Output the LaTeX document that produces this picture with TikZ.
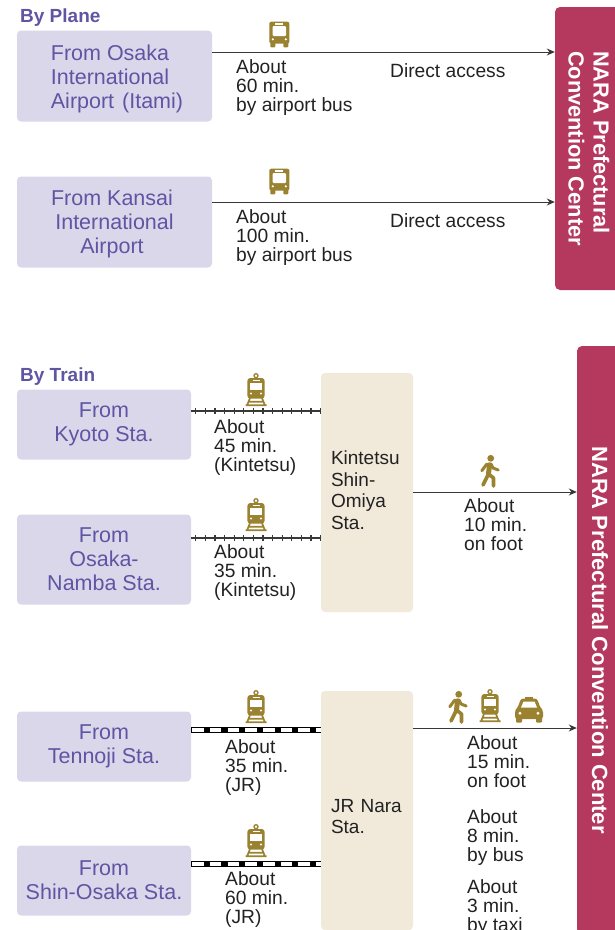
\documentclass[tikz,border=0pt]{standalone}
\usepackage{fontspec}
\usetikzlibrary{arrows.meta}
\setmainfont{Liberation Sans}
\definecolor{lavender}{HTML}{DBD7EB}
\definecolor{plum}{HTML}{5F55A2}
\definecolor{cream}{HTML}{F1EADB}
\definecolor{crimson}{HTML}{B5395F}
\definecolor{gold}{HTML}{9A8230}
\definecolor{ink}{HTML}{222222}
\tikzset{
	frombox/.style={fill=lavender, text=plum, rounded corners=4pt, align=center, inner sep=0pt, font=\fontsize{21.5}{24}\selectfont},
	stationbox/.style={fill=cream, text=ink, rounded corners=4pt, minimum height=239pt, text width=72pt, inner xsep=10pt, align=left, font=\fontsize{19}{21.5}\selectfont},
	venue/.style={fill=crimson, text=white, rotate=-90, rounded corners=5pt, align=left, inner sep=0pt, font=\bfseries\fontsize{21.8}{25}\selectfont},
	heading/.style={text=plum, anchor=west, inner sep=0pt, font=\bfseries\fontsize{19}{20}\selectfont},
	note/.style={text=ink, anchor=west, align=left, inner sep=0pt, font=\fontsize{19.2}{19}\selectfont},
	link/.style={draw=ink!90, line width=1pt, -{Stealth[length=8pt, width=7pt]}},
	kintetsu/.style={draw=ink!90, line width=1.3pt, postaction={draw, line width=6pt, dash pattern=on 1.2pt off 8.4pt, dash phase=-4pt}},
	jrline/.style={draw=black, line width=5.4pt, postaction={draw=white, line width=3.2pt, dash pattern=on 11.5pt off 6.2pt, dash phase=-1pt}},
	busicon/.pic={
		\fill[gold, rounded corners=2pt] (-10,-12.8) rectangle (10,9);
		\fill[gold, rounded corners=1pt] (-9,7) rectangle (-4,12.8);
		\fill[gold, rounded corners=1pt] (4,7) rectangle (9,12.8);
		\fill[white] (-4,-11.2) rectangle (4,-10);
		\fill[white, rounded corners=1pt] (-6.7,-8.5) rectangle (6.7,1.5);
		\fill[white] (-6.5,4.8) circle (1.2);
		\fill[white] (6.5,4.8) circle (1.2);
	},
	trainicon/.pic={
		\draw[gold, line width=1.3pt] (0,-15.3) circle (2);
		\fill[gold, rounded corners=3pt] (-8.7,-13) rectangle (8.7,7.5);
		\fill[white] (-6.3,-8) rectangle (6.3,-1);
		\fill[white] (-3.5,-11) rectangle (3.5,-10);
		\fill[white] (-5,2.5) circle (1.2);
		\fill[white] (5,2.5) circle (1.2);
		\draw[gold, line width=1.7pt] (-6,7) -- (-9,14.5) (6,7) -- (9,14.5) (-10.5,14.2) -- (10.5,14.2) (-7,10.8) -- (7,10.8);
	},
	walkicon/.pic={
		\fill[gold] (0.7,-12.7) circle (3.4);
		\draw[gold, line width=3pt, line cap=round, line join=round] (-8.2,-0.3) -- (-3.5,-6.5) -- (1,-7) -- (3,-3) -- (8.2,-1);
		\draw[gold, line width=5pt, line cap=round] (-0.5,-6) -- (-1.5,3);
		\draw[gold, line width=3.6pt, line cap=round, line join=round] (-1.5,3) -- (-7,14) (-1.5,3) -- (3.5,7) -- (3.5,15);
	},
	taxiicon/.pic={
		\fill[gold] (-4,-13.5) rectangle (4,-10.5);
		\fill[gold, rounded corners=2.5pt] (-8,-11.5) -- (8,-11.5) -- (11.5,-2) -- (14,0) -- (14,9) -- (-14,9) -- (-14,0) -- (-11.5,-2) -- cycle;
		\fill[gold, rounded corners=1pt] (-13,7) rectangle (-7,12.5);
		\fill[gold, rounded corners=1pt] (7,7) rectangle (13,12.5);
		\fill[white] (-5.5,-8.5) -- (5.5,-8.5) -- (8,-2.5) -- (-8,-2.5) -- cycle;
		\fill[white] (-9,3.2) circle (1.7);
		\fill[white] (9,3.2) circle (1.7);
	}
}
\begin{document}
\begin{tikzpicture}[x=1pt, y=-1pt]
	\useasboundingbox (0,0) rectangle (614,930);
	% by plane
	\node[heading] (plane) at (20,17.5) {By Plane};
	\node[frombox, align=left, minimum width=195pt, minimum height=91pt] (itami) at (114.5,76) {\rule{0pt}{22pt}\hspace*{5pt}From Osaka\\\hspace*{5pt}International\\\hspace*{5pt}Airport\hspace{2pt} (Itami)};
	\node[frombox, minimum width=195pt, minimum height=91pt] (kansai) at (114.5,222) {\rule{0pt}{20pt}From Kansai\hspace*{5pt}\\International\hspace*{5pt}\\Airport\hspace*{5pt}};
	\node[venue, minimum width=283pt, minimum height=68pt] (venuea) at (589,148.5) {NARA Prefectural\\Convention Center};
	\coordinate (rowa) at (0,52);
	\coordinate (rowb) at (0,202);
	\draw[link] (itami.east |- rowa) -- (venuea.south |- rowa);
	\draw[link] (kansai.east |- rowb) -- (venuea.south |- rowb);
	\pic at (279.3,34.5) {busicon};
	\pic at (279.3,181.5) {busicon};
	\node[note] (itaminote) at (236,88) {About\\60 min.\\by airport bus};
	\node[note] (kansainote) at (236,238) {About\\100 min.\\by airport bus};
	\node[note] (directa) at (390,71) {Direct access};
	\node[note] (directb) at (390,220.5) {Direct access};
	% by train
	\node[heading] (train) at (20,376.5) {By Train};
	\node[frombox, minimum width=174pt, minimum height=70pt] (kyoto) at (104,424.5) {From\\Kyoto Sta.};
	\node[frombox, minimum width=174pt, minimum height=90pt] (namba) at (104,559.5) {From\\Osaka-\\Namba Sta.};
	\node[frombox, minimum width=174pt, minimum height=70pt] (tennoji) at (104,746.5) {From\\Tennoji Sta.};
	\node[frombox, minimum width=174pt, minimum height=70pt] (shinosaka) at (104,880.5) {From\\Shin-Osaka Sta.};
	\node[stationbox] (shinomiya) at (367,492.5) {Kintetsu\\Shin-\\Omiya\\Sta.\rule[-5pt]{0pt}{5pt}};
	\node[stationbox] (jrnara) at (367,810.5) {\rule{0pt}{25pt}JR Nara\\Sta.};
	\node[venue, minimum width=588pt, minimum height=46pt, align=center, font=\bfseries\fontsize{22}{25}\selectfont] (venueb) at (600,640) {NARA Prefectural Convention Center};
	\coordinate (rowc) at (0,411);
	\coordinate (rowd) at (0,538);
	\coordinate (rowe) at (0,730);
	\coordinate (rowf) at (0,864);
	\coordinate (rowg) at (0,492);
	\coordinate (rowh) at (0,728);
	\draw[kintetsu] (kyoto.east |- rowc) -- (shinomiya.west |- rowc);
	\draw[kintetsu] (namba.east |- rowd) -- (shinomiya.west |- rowd);
	\draw[jrline] (tennoji.east |- rowe) -- (jrnara.west |- rowe);
	\draw[jrline] (shinosaka.east |- rowf) -- (jrnara.west |- rowf);
	\draw[link] (shinomiya.east |- rowg) -- (venueb.south |- rowg);
	\draw[link] (jrnara.east |- rowh) -- (venueb.south |- rowh);
	\pic at (256,391) {trainicon};
	\pic at (256,516) {trainicon};
	\pic at (256,708) {trainicon};
	\pic at (256,842) {trainicon};
	\pic at (490,471) {walkicon};
	\pic at (458,707) {walkicon};
	\pic at (490,707) {trainicon};
	\pic at (529,710) {taxiicon};
	\node[note] (kyotonote) at (214,448) {About\\45 min.\\(Kintetsu)};
	\node[note] (nambanote) at (214,573) {About\\35 min.\\(Kintetsu)};
	\node[note] (tennojinote) at (225,767.5) {About\\35 min.\\(JR)};
	\node[note] (shinosakanote) at (225,900) {About\\60 min.\\(JR)};
	\node[note] (foota) at (464,524.5) {About\\10 min.\\on foot};
	\node[note] (footb) at (467,762) {About\\15 min.\\on foot};
	\node[note] (bus) at (467,838) {About\\8 min.\\by bus};
	\node[note] (taxi) at (467,908) {About\\3 min.\\by taxi};
\end{tikzpicture}
\end{document}
